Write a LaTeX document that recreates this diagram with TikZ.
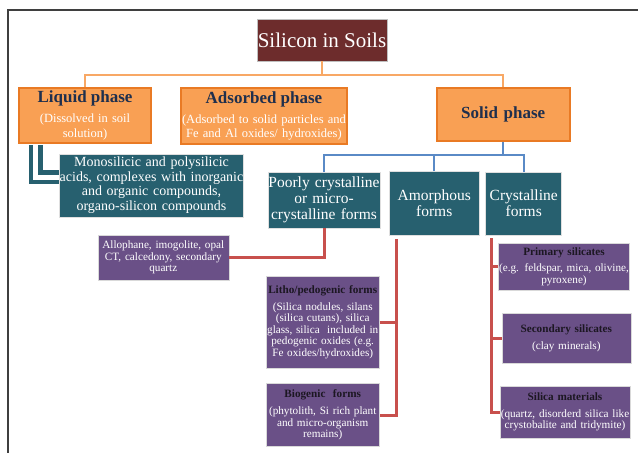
\documentclass[tikz,border=0pt]{standalone}
\usepackage{fontspec}
\setmainfont{Liberation Serif}
\setlength{\parindent}{0pt}
\definecolor{siltitle}{HTML}{6D2C2C}
\definecolor{phaseorange}{HTML}{F9A054}
\definecolor{phaseedge}{HTML}{E97A24}
\definecolor{phasenavy}{HTML}{1F2F4D}
\definecolor{formteal}{HTML}{27606F}
\definecolor{detailpurple}{HTML}{6A5087}
\definecolor{detailink}{HTML}{1C1722}
\definecolor{redstem}{HTML}{C8504D}
\definecolor{bluestem}{HTML}{5A8AC6}
\definecolor{orangestem}{HTML}{F8A865}
\definecolor{framegray}{HTML}{3F3F3F}
\newcommand{\phasehead}[1]{{\fontsize{17}{20}\selectfont\bfseries\textcolor{phasenavy}{#1}\par}\vspace{5.5pt}}
\newcommand{\detailhead}[1]{{\bfseries\textcolor{detailink}{#1}\par}\vspace{5pt}}
\tikzset{
boxsize/.style 2 args={minimum width=#1, text width=#1, minimum height=#2},
titlebox/.style={fill=siltitle, draw=gray!50, text=white, inner sep=0pt, font=\fontsize{21}{24}\selectfont},
phasebox/.style={fill=phaseorange, draw=phaseedge, line width=2pt, text=white, align=center, inner sep=0pt, font=\fontsize{12.5}{14.5}\selectfont},
formbox/.style={fill=formteal, draw=white!75!gray, line width=0.6pt, text=white, align=center, inner sep=0pt, font=\fontsize{15.5}{15.8}\selectfont},
detailbox/.style={fill=detailpurple, draw=white!70!gray, line width=0.6pt, text=white, align=center, inner sep=0pt, font=\fontsize{11.2}{11.6}\selectfont},
orangelink/.style={draw=orangestem, line width=2.2pt},
bluelink/.style={draw=bluestem, line width=2.2pt},
redlink/.style={draw=redstem, line width=3pt},
liquidlink/.style={draw=formteal, line width=4.5pt, double=white, double distance=5pt}
}
\begin{document}
\begin{tikzpicture}[x=1pt,y=-1pt]
\useasboundingbox (0,0) rectangle (638,453);
\draw[framegray, line width=1.6pt] (8,453) -- (8,10) -- (638,10);

\node[titlebox, minimum width=130pt, minimum height=42pt] (title) at (322,40) {Silicon in Soils};
\node[phasebox, boxsize={132pt}{55pt}] (liquid) at (85,115.5) {\phasehead{Liquid phase}(Dissolved in soil\\ solution)};
\node[phasebox, boxsize={166pt}{56pt}] (adsorbed) at (264,116) {\phasehead{Adsorbed phase}(Adsorbed to solid particles and\\ Fe and Al oxides/ hydroxides)};
\node[phasebox, boxsize={133pt}{53pt}, font=\fontsize{17}{20}\selectfont\bfseries, text=phasenavy] (solid) at (503.2,114.3) {Solid phase};

\node[formbox, boxsize={184pt}{63pt}, font=\fontsize{14}{14.7}\selectfont] (mono) at (151.5,185.3) {Monosilicic and polysilicic\\ acids, complexes with inorganic\\ and organic compounds,\\ organo-silicon compounds};
\node[formbox, boxsize={112pt}{56pt}] (poorly) at (324,200) {Poorly crystalline\\ or micro-\\ crystalline forms};
\node[formbox, boxsize={90pt}{64pt}] (amorph) at (434.2,203.5) {Amorphous\\ forms};
\node[formbox, boxsize={76pt}{63pt}] (crystal) at (523.7,203.4) {Crystalline\\ forms};

\node[detailbox, boxsize={131pt}{45pt}] (allophane) at (163.3,257.7) {Allophane, imogolite, opal\\ CT, calcedony, secondary\\ quartz};
\node[detailbox, boxsize={113pt}{92pt}] (litho) at (322.7,322.2) {\detailhead{Litho/pedogenic forms}(Silica nodules, silans\\ (silica cutans), silica\\ glass, silica~ included in\\ pedogenic oxides (e.g.\\ Fe oxides/hydroxides)};
\node[detailbox, boxsize={113pt}{63pt}] (bio) at (322.7,415) {\detailhead{Biogenic~ forms}(phytolith, Si rich plant\\ and micro-organism\\ remains)};
\node[detailbox, boxsize={131pt}{47pt}] (primary) at (564,266.7) {\detailhead{Primary silicates}(e.g. feldspar, mica, olivine,\\ pyroxene)};
\node[detailbox, boxsize={129pt}{50pt}] (secondary) at (566.3,338.3) {\detailhead{Secondary silicates}(clay minerals)};
\node[detailbox, boxsize={130pt}{52pt}] (silicamat) at (565,412.2) {\detailhead{Silica materials}(quartz, disorderd silica like\\ crystobalite and tridymite)};

\draw[orangelink] (title.south) -- ++(0,13.5) coordinate (titlejoin);
\draw[orangelink] (liquid.north) |- (titlejoin) -| (solid.north);
\draw[bluelink] (solid.south) -- ++(0,13.5) coordinate (solidjoin);
\draw[bluelink] (poorly.north) |- (solidjoin) -| (crystal.north);
\draw[bluelink] (amorph.north) -- (amorph.north |- solidjoin);

\coordinate (liquidstem) at ([xshift=17.5pt,yshift=-1pt]liquid.south west);
\draw[liquidlink] (liquidstem) |- ([yshift=8pt]mono.west);

\draw[redlink] (poorly.south) |- (allophane.east);
\coordinate (amorphstem) at ([xshift=7.5pt,yshift=-3pt]amorph.south west);
\draw[redlink] (amorphstem) |- (bio.east);
\draw[redlink] (litho.east) -- (litho.east -| amorphstem);
\coordinate (crystalstem) at ([xshift=6pt,yshift=-3pt]crystal.south west);
\draw[redlink] (crystalstem) |- (silicamat.west);
\draw[redlink] (primary.west) -- (primary.west -| crystalstem);
\draw[redlink] (secondary.west) -- (secondary.west -| crystalstem);
\end{tikzpicture}
\end{document}
